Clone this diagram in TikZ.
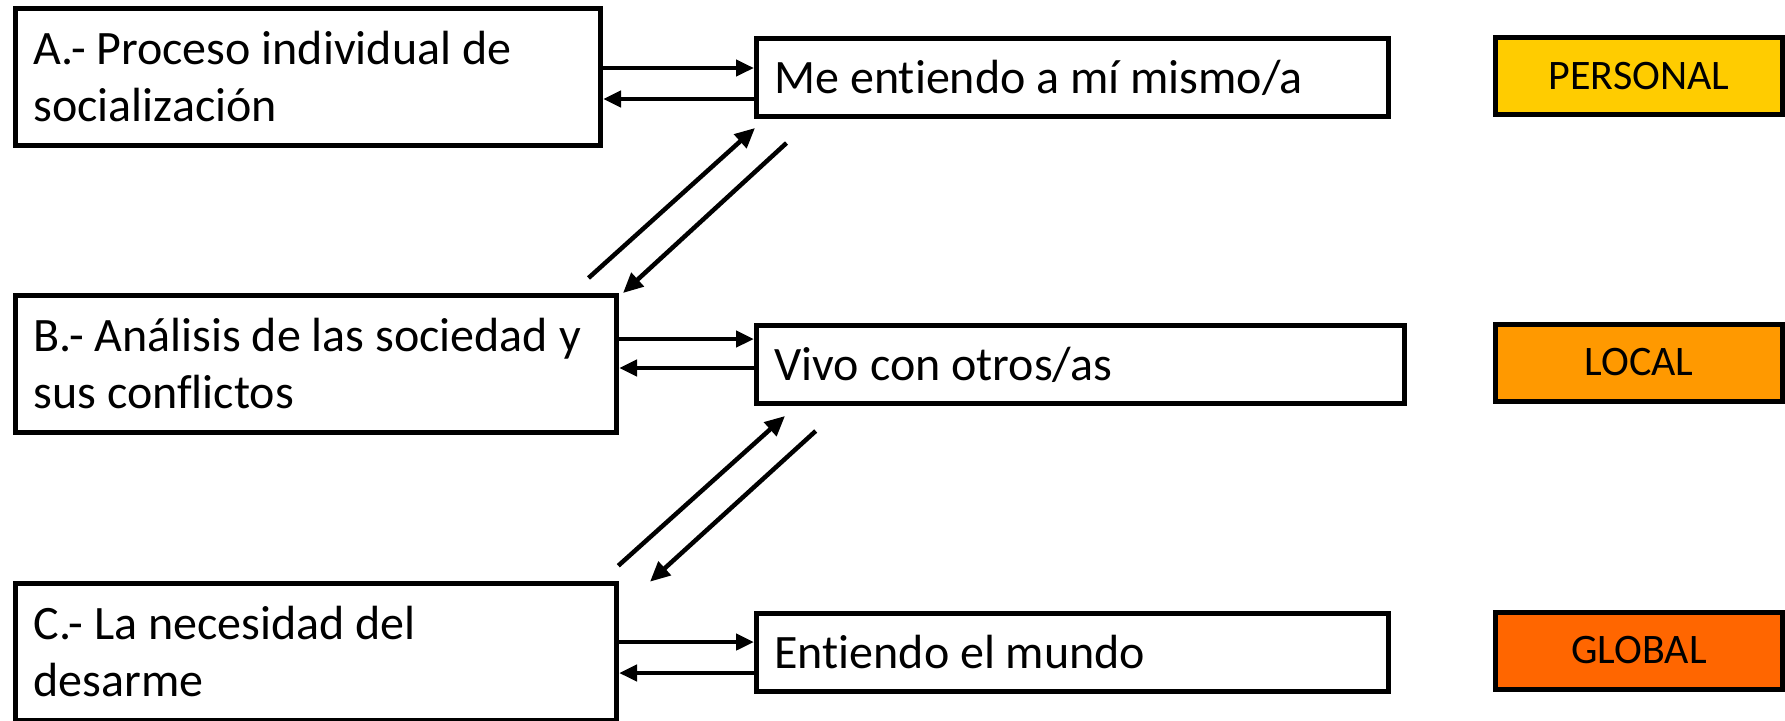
\documentclass[tikz,border=0pt]{standalone}
\usepackage{fontspec}
\setmainfont{Carlito}[Ligatures=NoCommon]
\usetikzlibrary{arrows.meta,calc}
\definecolor{cpersonal}{HTML}{FFCC00}
\definecolor{clocal}{HTML}{FF9900}
\definecolor{cglobal}{HTML}{FF6600}
\begin{document}
\begin{tikzpicture}[x=1pt,y=-1pt,
  lbox/.style={draw, line width=5pt, rectangle, minimum height=137pt, inner xsep=18pt, inner ysep=0pt, align=flush left, font=\fontsize{48}{57}\selectfont},
  rbox/.style={draw, line width=5pt, rectangle, minimum height=78pt, inner xsep=18pt, inner ysep=0pt, align=flush left, font=\fontsize{48}{57}\selectfont},
  tagbox/.style={draw, line width=5pt, rectangle, minimum width=287pt, minimum height=77pt, inner sep=0pt, font=\fontsize{42}{48}\selectfont},
  arr/.style={line width=4.5pt, -{Triangle[length=18pt,width=16pt]}},
  diag/.style={line width=4.5pt, line cap=butt, -{Triangle[length=20pt,width=18pt]}}
]
\useasboundingbox (0,0) rectangle (1785,720);
\fill[white] (0,0) rectangle (1785,720);

% left boxes
\node[lbox, text width=549pt] (A) at (308,77) {A.- Proceso individual de\\socialización};
\node[lbox, text width=565pt] (B) at (316,364) {B.- Análisis de las sociedad y\\sus conflictos};
\node[lbox, text width=565pt] (C) at (316,651.5) {C.- La necesidad del\\desarme};

% middle boxes
\node[rbox, text width=596pt] (Me) at (1072.5,77.75) {Me entiendo a mí mismo/a};
\node[rbox, text width=612pt] (Vivo) at (1080.5,364.5) {Vivo con otros/as};
\node[rbox, text width=596pt] (Mundo) at (1072.5,652.5) {Entiendo el mundo};

% tags
\node[tagbox, fill=cpersonal] (P) at (1639,75.7) {PERSONAL};
\node[tagbox, fill=clocal] (L) at (1639,362.5) {LOCAL};
\node[tagbox, fill=cglobal] (G) at (1639,650.5) {GLOBAL};

% horizontal arrows
\path ([yshift=9pt]A.east) coordinate (a1) ([yshift=-22pt]A.east) coordinate (a2);
\draw[arr] (a1) -- (a1 -| Me.west);
\draw[arr] (a2 -| Me.west) -- (a2);
\path ([yshift=25pt]B.east) coordinate (b1) ([yshift=-4pt]B.east) coordinate (b2);
\draw[arr] (b1) -- (b1 -| Vivo.west);
\draw[arr] (b2 -| Vivo.west) -- (b2);
\path ([yshift=9.5pt]C.east) coordinate (c1) ([yshift=-21.5pt]C.east) coordinate (c2);
\draw[arr] (c1) -- (c1 -| Mundo.west);
\draw[arr] (c2 -| Mundo.west) -- (c2);

% diagonal arrows
\coordinate (d1s) at (588.5,278);
\coordinate (d1e) at (755,128);
\coordinate (d2s) at (786.5,143);
\coordinate (d2e) at (623,293);
\coordinate (d3s) at (618.3,565.7);
\coordinate (d3e) at (785,416);
\coordinate (d4s) at (815.7,431);
\coordinate (d4e) at (650,581.7);
\draw[diag] (d1s) -- (d1e);
\draw[diag] (d2s) -- (d2e);
\draw[diag] (d3s) -- (d3e);
\draw[diag] (d4s) -- (d4e);
\end{tikzpicture}
\end{document}
